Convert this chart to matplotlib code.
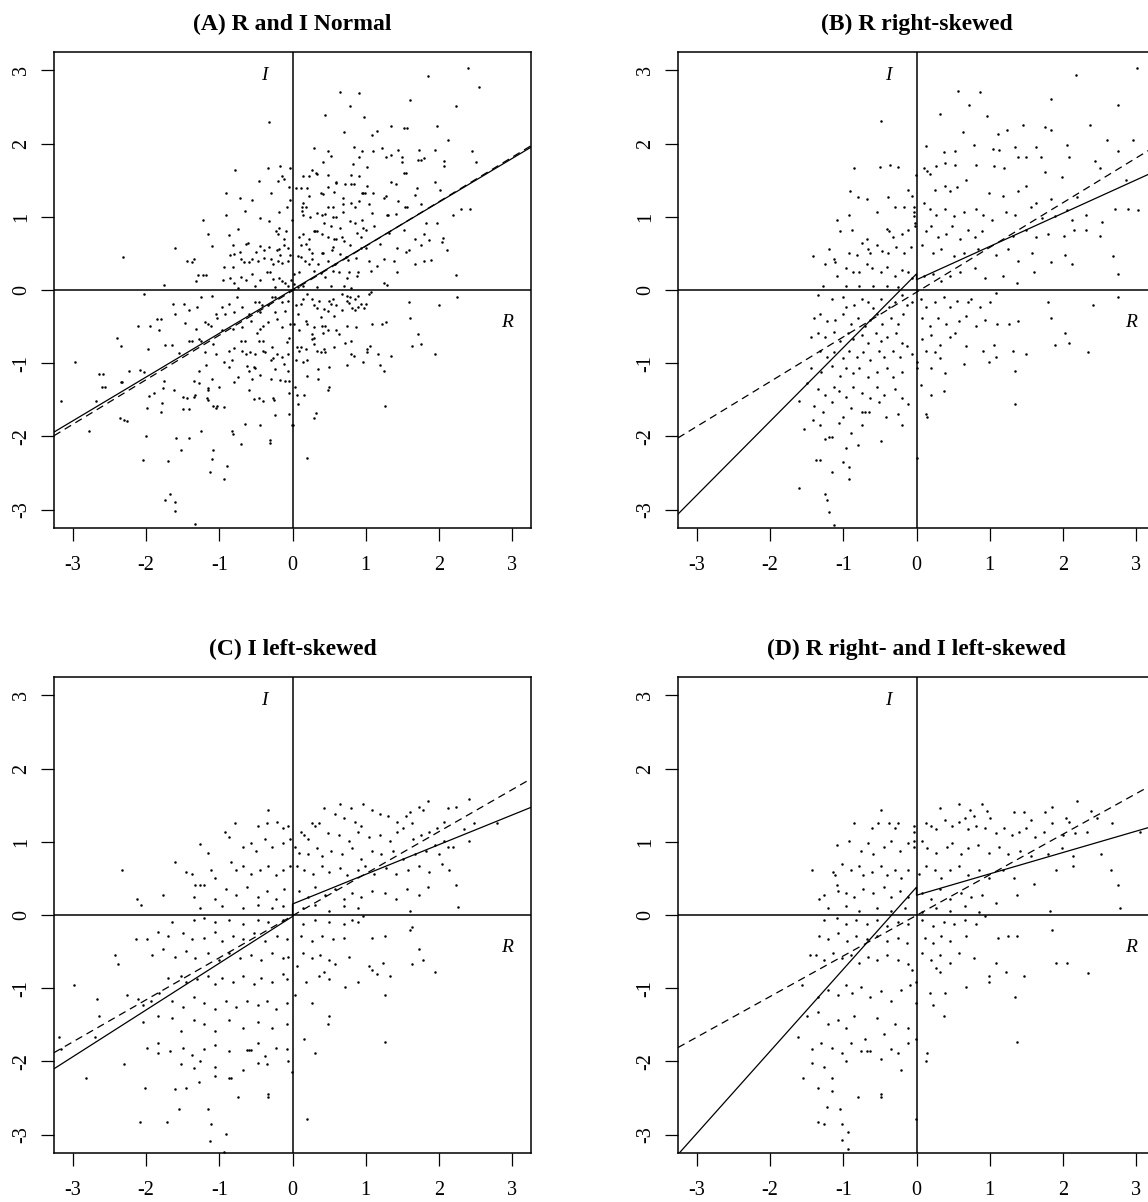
import matplotlib
matplotlib.use("Agg")
import matplotlib.pyplot as plt

plt.rcParams["font.family"] = ["Liberation Serif", "DejaVu Serif"]

TITLES = ["(A) R and I Normal", "(B) R right-skewed",
          "(C) I left-skewed", "(D) R right- and I left-skewed"]
TICKS = [-3, -2, -1, 0, 1, 2, 3]

# scatter points (R, I)
PTS_A = [
    (-0.32, 2.30), (-0.79, 1.64), (-0.34, 1.66), (-0.17, 1.70), (-0.04, 1.66), (-0.14, 1.56), (-0.12, 1.52),
    (-0.46, 1.49), (-0.20, 1.49), (-0.05, 1.41), (-0.91, 1.32), (-0.72, 1.25), (-0.30, 1.32), (-0.55, 1.23),
    (-0.07, 1.14), (-0.04, 1.23), (-0.91, 1.03), (-0.65, 1.08), (-0.19, 1.06), (-0.45, 0.98), (-0.32, 0.94),
    (-0.01, 0.96), (-1.23, 0.96), (-0.87, 0.75), (-1.15, 0.77), (-0.74, 0.83), (-0.18, 0.85), (-0.23, 0.80),
    (-0.20, 0.77), (-0.11, 0.70), (-0.09, 0.80), (-0.63, 0.63), (-0.61, 0.64), (-0.81, 0.62), (-1.10, 0.60),
    (-0.72, 0.52), (-0.50, 0.52), (-0.44, 0.60), (-0.39, 0.54), (-0.32, 0.59), (-0.21, 0.55), (-0.18, 0.56),
    (-0.12, 0.62), (-0.06, 0.58), (-0.17, 0.48), (-0.04, 0.48), (-0.85, 0.48), (-0.80, 0.49), (-1.60, 0.58),
    (-2.32, 0.45), (-1.44, 0.40), (-1.38, 0.38), (-1.35, 0.42), (-0.93, 0.32), (-0.82, 0.31), (-0.71, 0.43),
    (-0.66, 0.38), (-0.60, 0.38), (-0.56, 0.42), (-0.47, 0.40), (-0.39, 0.44), (-0.30, 0.42), (-0.26, 0.35),
    (-0.20, 0.40), (-0.15, 0.37), (-0.06, 0.40), (-1.29, 0.20), (-1.22, 0.20), (-1.18, 0.20), (-1.32, 0.12),
    (-0.95, 0.14), (-0.85, 0.16), (-0.80, 0.10), (-0.70, 0.18), (-0.63, 0.13), (-0.55, 0.22), (-0.45, 0.13),
    (-0.35, 0.24), (-0.31, 0.24), (-0.26, 0.15), (-0.19, 0.17), (-0.14, 0.12), (-0.10, 0.10), (-0.02, 0.14),
    (-1.75, 0.07), (-0.74, 0.03), (-0.51, 0.05), (-0.24, 0.04), (-0.06, 0.06),
    (2.40, 3.03), (1.85, 2.92), (2.55, 2.77), (0.65, 2.70), (0.91, 2.69), (1.61, 2.60), (0.78, 2.51),
    (2.23, 2.51), (0.44, 2.39), (0.98, 2.36), (1.53, 2.21), (1.56, 2.21), (1.34, 2.24), (1.16, 2.17),
    (1.97, 2.24), (0.70, 2.16), (1.08, 2.11), (2.12, 2.05), (0.84, 1.95), (0.29, 1.94), (0.48, 1.90),
    (0.53, 1.83), (0.95, 1.90), (1.10, 1.90), (1.23, 1.94), (1.44, 1.91), (1.35, 1.84), (1.73, 1.91),
    (1.95, 1.91), (2.46, 1.90), (0.91, 1.81), (1.28, 1.81), (1.50, 1.81), (1.50, 1.75), (1.72, 1.77),
    (1.75, 1.78), (1.80, 1.80), (2.07, 1.76), (2.07, 1.70), (0.42, 1.75), (0.83, 1.72), (2.51, 1.75),
    (1.02, 1.68), (0.27, 1.64), (0.32, 1.60), (0.34, 1.58), (0.15, 1.55), (0.22, 1.56), (0.48, 1.57),
    (0.80, 1.57), (0.91, 1.55), (1.53, 1.60), (1.55, 1.60), (0.59, 1.47), (0.60, 1.46), (0.72, 1.45),
    (0.80, 1.45), (0.84, 1.45), (1.02, 1.42), (1.35, 1.47), (1.42, 1.45), (1.70, 1.39), (1.95, 1.47),
    (2.01, 1.37), (0.05, 1.39), (0.11, 1.39), (0.20, 1.39), (0.39, 1.33), (0.49, 1.40), (0.57, 1.34),
    (0.95, 1.33), (0.97, 1.32), (0.99, 1.32), (1.10, 1.32), (0.23, 1.28), (0.42, 1.31), (0.69, 1.25),
    (0.80, 1.19), (0.91, 1.22), (1.25, 1.26), (1.28, 1.29), (1.44, 1.22), (1.68, 1.30), (0.15, 1.19),
    (0.18, 1.14), (0.49, 1.14), (0.56, 1.14), (0.69, 1.18), (1.04, 1.17), (1.57, 1.14), (1.75, 1.17),
    (0.13, 1.13), (0.13, 1.08), (0.24, 1.00), (0.15, 1.02), (0.34, 1.05), (0.41, 1.02), (0.44, 1.04),
    (0.55, 1.00), (0.59, 1.00), (0.69, 1.06), (0.86, 1.13), (1.08, 1.05), (1.29, 1.03), (1.31, 1.02),
    (1.41, 1.04), (1.54, 1.13), (2.20, 1.03), (2.42, 1.10), (2.30, 1.10), (1.83, 0.92), (1.98, 0.92),
    (0.29, 0.81), (0.31, 0.81), (0.34, 0.81), (0.43, 0.91), (0.52, 0.88), (0.65, 0.85), (0.78, 0.94),
    (0.86, 0.91), (0.95, 0.95), (0.96, 0.85), (1.01, 0.82), (1.11, 0.88), (1.53, 0.82), (0.09, 0.73),
    (0.15, 0.76), (0.23, 0.69), (0.40, 0.76), (0.49, 0.73), (0.57, 0.69), (0.60, 0.69), (0.68, 0.73),
    (0.70, 0.67), (0.88, 0.78), (0.93, 0.72), (1.32, 0.78), (1.80, 0.77), (2.06, 0.71), (2.11, 0.55),
    (1.67, 0.70), (0.11, 0.62), (0.18, 0.63), (0.23, 0.56), (0.27, 0.51), (0.40, 0.51), (0.42, 0.51),
    (0.54, 0.54), (0.55, 0.59), (0.65, 0.49), (0.78, 0.61), (0.94, 0.57), (1.01, 0.58), (1.19, 0.63),
    (1.43, 0.58), (1.59, 0.54), (1.55, 0.52), (1.75, 0.62), (1.86, 0.68), (2.05, 0.65), (0.07, 0.47),
    (0.11, 0.45), (0.17, 0.40), (0.23, 0.36), (0.27, 0.42), (0.35, 0.35), (0.48, 0.40), (0.58, 0.36),
    (0.73, 0.45), (0.76, 0.41), (0.87, 0.44), (1.05, 0.39), (1.15, 0.33), (1.25, 0.42), (1.39, 0.40),
    (1.68, 0.35), (1.80, 0.40), (1.89, 0.41), (2.23, 0.21), (0.02, 0.22), (0.09, 0.24), (0.30, 0.26),
    (0.39, 0.23), (0.45, 0.18), (0.55, 0.26), (0.64, 0.24), (0.75, 0.17), (0.77, 0.25), (0.88, 0.19),
    (0.90, 0.24), (1.07, 0.26), (1.25, 0.09), (1.29, 0.07), (1.43, 0.24), (0.02, 0.08), (0.07, 0.04),
    (0.14, 0.06), (0.34, 0.04), (0.52, 0.05), (0.70, 0.06), (0.80, 0.03),
    (-2.03, -0.06), (-1.64, -0.19), (-1.48, -0.19), (-1.30, -0.23), (-1.25, -0.10), (-1.10, -0.08),
    (-0.96, -0.23), (-0.87, -0.19), (-0.80, -0.30), (-0.76, -0.09), (-0.69, -0.23), (-0.51, -0.17),
    (-0.46, -0.17), (-0.42, -0.21), (-0.33, -0.21), (-0.24, -0.10), (-0.28, -0.09), (-0.15, -0.17),
    (-0.06, -0.15), (-1.61, -0.33), (-1.42, -0.27), (-1.05, -0.33), (-0.92, -0.33), (-0.60, -0.33),
    (-0.44, -0.30), (-0.24, -0.30), (-0.10, -0.28), (-2.11, -0.49), (-1.95, -0.49), (-1.85, -0.40),
    (-1.80, -0.40), (-1.83, -0.55), (-1.47, -0.45), (-1.32, -0.53), (-1.20, -0.44), (-1.15, -0.46),
    (-1.12, -0.49), (-1.25, -0.69), (-1.03, -0.38), (-0.96, -0.55), (-0.82, -0.53), (-0.69, -0.51),
    (-0.57, -0.43), (-0.49, -0.59), (-0.44, -0.53), (-0.40, -0.49), (-0.33, -0.44), (-0.21, -0.39),
    (-0.15, -0.51), (-0.05, -0.65), (-0.03, -0.46), (-2.40, -0.65), (-2.35, -0.76), (-1.97, -0.80),
    (-1.74, -0.75), (-1.65, -0.75), (-1.55, -0.86), (-1.42, -0.69), (-1.37, -0.69), (-1.28, -0.67),
    (-1.19, -0.85), (-1.08, -0.74), (-1.05, -0.88), (-0.94, -0.98), (-0.87, -0.83), (-0.80, -0.79),
    (-0.71, -0.69), (-0.65, -0.69), (-0.69, -0.83), (-0.64, -0.87), (-0.58, -0.85), (-0.51, -0.87),
    (-0.46, -0.70), (-0.41, -0.70), (-0.38, -0.85), (-0.28, -0.78), (-0.21, -0.87), (-0.15, -0.92),
    (-0.06, -0.87), (-0.08, -0.71), (-2.97, -0.99), (-2.64, -1.15), (-2.59, -1.15), (-2.23, -1.10),
    (-2.08, -1.09), (-2.03, -1.12), (-2.34, -1.26), (-1.96, -1.45), (-1.99, -1.61), (-1.78, -1.54),
    (-1.80, -1.67), (-1.89, -1.40), (-1.77, -1.34), (-1.76, -1.24), (-1.62, -1.36), (-1.49, -1.46),
    (-1.44, -1.47), (-1.49, -1.62), (-1.42, -1.62), (-1.35, -1.46), (-1.33, -1.43), (-1.17, -1.48),
    (-1.16, -1.50), (-1.34, -1.24), (-1.28, -1.27), (-1.28, -1.10), (-1.18, -1.03), (-1.16, -1.34),
    (-1.15, -1.37), (-1.10, -1.21), (-1.09, -1.58), (-1.05, -1.61), (-1.03, -1.58), (-1.00, -1.33),
    (-0.94, -1.60), (-0.87, -1.05), (-0.83, -0.96), (-0.80, -1.26), (-0.74, -1.19), (-0.62, -1.04),
    (-0.60, -1.10), (-0.53, -1.05), (-0.51, -1.06), (-0.60, -1.37), (-0.52, -1.49), (-0.46, -1.47),
    (-0.55, -1.21), (-0.44, -1.16), (-0.40, -1.52), (-0.30, -1.21), (-0.27, -1.47), (-0.25, -1.50),
    (-0.24, -1.71), (-0.17, -1.23), (-0.05, -1.24), (-0.05, -1.40), (-0.05, -1.69), (-0.01, -1.85),
    (-0.10, -1.24), (-0.40, -0.83), (-0.30, -0.95), (-0.27, -0.93), (-0.24, -1.08), (-0.12, -1.01),
    (-0.06, -1.10), (-2.78, -1.92), (-2.00, -2.00), (-2.05, -2.32), (-1.70, -2.34), (-1.59, -2.02),
    (-1.52, -2.19), (-1.42, -2.02), (-1.25, -1.93), (-1.13, -2.49), (-1.10, -2.31), (-1.08, -2.19),
    (-0.93, -2.58), (-0.89, -2.40), (-0.83, -1.92), (-0.82, -1.96), (-0.71, -2.10), (-0.65, -1.83),
    (-0.44, -1.85), (-0.31, -2.05), (-0.31, -2.09), (-1.74, -2.87), (-1.68, -2.78), (-1.61, -2.90),
    (-1.60, -3.02), (-1.33, -3.19), (-2.30, -1.77), (-2.26, -1.79), (-3.17, -1.51), (-2.60, -1.32),
    (-2.56, -1.32), (-2.33, -1.25), (-2.69, -1.51), (-2.36, -1.75),
    (2.25, -0.10), (2.00, -0.21), (1.59, -0.17), (1.61, -0.38), (1.72, -0.60), (1.76, -0.74),
    (1.63, -0.77), (1.95, -0.87), (1.28, -0.44), (1.23, -0.46), (1.08, -0.46), (1.06, -0.76),
    (1.02, -0.80), (1.02, -0.85), (1.17, -0.87), (1.34, -0.90), (1.25, -1.10), (1.19, -1.02),
    (0.97, -0.98), (0.80, -0.87), (0.84, -0.90), (0.74, -1.02), (0.72, -0.72), (0.80, -0.70),
    (0.87, -0.51), (0.74, -0.49), (1.05, -0.05), (0.93, -0.19), (1.01, -0.19), (0.98, -0.24),
    (0.81, -0.24), (0.86, -0.27), (0.89, -0.23), (0.77, -0.18), (0.75, -0.15), (0.78, -0.09),
    (0.74, -0.08), (0.68, -0.05), (0.50, -0.15), (0.55, -0.12), (0.60, -0.21), (0.68, -0.27),
    (0.57, -0.36), (0.39, -0.37), (0.41, -0.49), (0.45, -0.49), (0.48, -0.55), (0.42, -0.59),
    (0.30, -0.51), (0.26, -0.60), (0.27, -0.67), (0.30, -0.74), (0.34, -0.83), (0.39, -0.85),
    (0.43, -0.80), (0.45, -0.85), (0.30, -0.65), (0.59, -0.55), (0.64, -0.60), (0.57, -0.78),
    (0.50, -1.05), (0.35, -1.08), (0.20, -0.96), (0.14, -0.99), (0.05, -0.96), (0.11, -0.78),
    (0.18, -0.80), (0.20, -1.17), (0.35, -1.21), (0.50, -1.32), (0.49, -1.37), (0.04, -1.32),
    (0.06, -1.43), (0.16, -1.43), (0.08, -1.55), (0.32, -1.68), (0.30, -1.75), (1.27, -1.58),
    (0.20, -2.30), (0.00, -1.85), (0.07, -0.33), (0.05, -0.21), (0.11, -0.19), (0.14, -0.12),
    (0.20, -0.05), (0.27, -0.12), (0.30, -0.21), (0.34, -0.24), (0.36, -0.15), (0.06, -0.78),
    (0.09, -0.83), (0.02, -0.46), (0.09, -0.55), (0.18, -0.42), (0.20, -0.46), (0.43, -0.26),
    (0.48, -0.28), (0.52, -0.19), (0.89, -0.08), (0.86, -0.12), (1.07, -0.03),
]

PTS_B = [
    (3.02, 3.03), (2.18, 2.93), (0.57, 2.72), (0.87, 2.70), (1.84, 2.61), (0.72, 2.52), (2.75, 2.53),
    (-0.49, 2.31), (0.32, 2.40), (0.96, 2.38), (1.46, 2.25), (1.75, 2.22), (1.84, 2.19), (0.63, 2.16),
    (1.12, 2.13), (1.24, 2.18), (2.37, 2.25), (2.60, 2.05), (0.13, 1.96), (0.37, 1.88), (0.53, 1.90),
    (0.78, 1.98), (1.05, 1.93), (1.13, 1.91), (1.34, 1.95), (1.39, 1.82), (1.49, 1.82), (1.63, 1.95),
    (1.70, 1.82), (2.06, 1.98), (2.08, 1.82), (2.44, 1.76), (2.75, 1.90), (2.96, 2.05), (-0.85, 1.66),
    (-0.50, 1.68), (-0.36, 1.71), (-0.25, 1.68), (-0.01, 1.57), (0.10, 1.66), (0.15, 1.62), (0.19, 1.58),
    (0.27, 1.69), (0.39, 1.74), (0.53, 1.71), (0.82, 1.71), (1.06, 1.69), (1.20, 1.66), (1.75, 1.61),
    (1.99, 1.54), (2.51, 1.66), (-0.91, 1.35), (-0.68, 1.24), (-0.80, 1.27), (-0.11, 1.37), (-0.06, 1.29),
    (0.25, 1.37), (0.39, 1.42), (0.46, 1.35), (0.56, 1.40), (0.68, 1.50), (0.99, 1.32), (1.18, 1.29),
    (1.39, 1.35), (1.49, 1.42), (1.63, 1.19), (1.84, 1.24), (2.20, 1.27), (2.72, 1.11), (2.89, 1.11),
    (3.03, 1.09), (2.87, 1.50), (-0.39, 1.27), (-0.30, 1.14), (-0.17, 1.14), (-0.04, 1.14), (-0.04, 1.06),
    (-0.04, 1.01), (-1.08, 0.96), (-0.92, 1.03), (-0.54, 1.06), (0.10, 1.19), (0.18, 1.11), (0.27, 1.03),
    (0.39, 1.11), (0.51, 1.01), (0.65, 1.06), (0.82, 1.11), (0.91, 1.03), (1.03, 0.95), (1.22, 1.06),
    (1.34, 1.03), (1.56, 1.14), (1.72, 0.98), (1.89, 1.01), (2.06, 1.09), (2.32, 1.03), (2.13, 0.95),
    (2.53, 0.93), (-1.04, 0.80), (-0.88, 0.82), (-0.68, 0.69), (-0.40, 0.83), (-0.37, 0.80), (-0.32, 0.72),
    (-0.20, 0.77), (-0.11, 0.82), (-0.02, 0.88), (-0.02, 0.92), (0.13, 0.80), (0.20, 0.87), (0.30, 0.72),
    (0.41, 0.77), (0.49, 0.87), (0.60, 0.69), (0.70, 0.82), (0.80, 0.72), (0.89, 0.80), (1.32, 0.74),
    (1.49, 0.82), (1.63, 0.72), (1.80, 0.77), (2.01, 0.74), (2.15, 0.82), (2.32, 0.82), (2.51, 0.74),
    (-1.20, 0.56), (-1.42, 0.46), (-1.13, 0.43), (-1.11, 0.38), (-0.92, 0.51), (-0.82, 0.48), (-0.74, 0.64),
    (-0.66, 0.56), (-0.63, 0.51), (-0.54, 0.61), (-0.47, 0.53), (-0.39, 0.51), (-0.28, 0.59), (-0.17, 0.51),
    (-0.07, 0.59), (0.08, 0.61), (0.22, 0.51), (0.34, 0.56), (0.51, 0.46), (0.65, 0.51), (0.84, 0.56),
    (1.08, 0.48), (1.25, 0.56), (1.39, 0.40), (1.58, 0.51), (1.84, 0.38), (2.03, 0.48), (2.13, 0.35),
    (2.68, 0.46), (2.75, 0.22), (-1.25, 0.35), (-1.09, 0.19), (-0.97, 0.30), (-0.87, 0.25), (-0.78, 0.25),
    (-0.68, 0.35), (-0.61, 0.30), (-0.49, 0.25), (-0.40, 0.32), (-0.30, 0.19), (-0.20, 0.27), (-0.11, 0.25),
    (-0.06, 0.17), (0.10, 0.19), (0.22, 0.22), (0.34, 0.12), (0.46, 0.19), (0.60, 0.25), (0.80, 0.30),
    (0.94, 0.17), (1.18, 0.19), (1.37, 0.09), (1.60, 0.25), (-1.28, 0.06), (-0.97, 0.05), (-0.78, 0.06),
    (-0.59, 0.05), (-0.40, 0.06), (-0.25, 0.04),
    (-1.35, -0.07), (-1.16, -0.12), (-1.01, -0.09), (-0.97, -0.23), (-0.85, -0.20), (-0.75, -0.12),
    (-0.66, -0.17), (-0.59, -0.25), (-0.49, -0.12), (-0.37, -0.23), (-0.30, -0.17), (-0.20, -0.07),
    (-0.13, -0.20), (-0.06, -0.17), (0.06, -0.12), (0.13, -0.23), (0.25, -0.17), (0.37, -0.09),
    (0.46, -0.23), (0.56, -0.15), (0.70, -0.17), (0.75, -0.12), (0.87, -0.23), (1.01, -0.17),
    (1.08, -0.04), (1.80, -0.17), (2.41, -0.20), (2.75, -0.09), (-1.40, -0.38), (-1.32, -0.33),
    (-1.23, -0.43), (-1.11, -0.41), (-1.01, -0.33), (-0.90, -0.46), (-0.80, -0.38), (-0.70, -0.49),
    (-0.63, -0.41), (-0.54, -0.33), (-0.47, -0.46), (-0.35, -0.38), (-0.25, -0.46), (-0.18, -0.33),
    (0.08, -0.38), (0.18, -0.49), (0.30, -0.38), (0.41, -0.46), (0.58, -0.43), (0.68, -0.36),
    (0.82, -0.49), (0.94, -0.41), (1.10, -0.46), (1.27, -0.46), (1.39, -0.43), (1.84, -0.38),
    (2.03, -0.59), (-1.35, -0.59), (-1.25, -0.64), (-1.13, -0.57), (-1.04, -0.70), (-0.94, -0.59),
    (-0.87, -0.67), (-0.75, -0.62), (-0.66, -0.72), (-0.56, -0.59), (-0.49, -0.70), (-0.40, -0.64),
    (-0.28, -0.59), (-0.20, -0.72), (0.08, -0.67), (0.20, -0.62), (0.32, -0.75), (0.46, -0.64),
    (0.53, -0.59), (1.89, -0.75), (2.08, -0.72), (2.34, -0.85), (-1.44, -0.64), (-1.32, -0.83),
    (-1.23, -0.91), (-1.13, -0.85), (-1.01, -0.93), (-0.92, -0.83), (-0.82, -0.91), (-0.73, -0.85),
    (-0.63, -0.96), (-0.51, -0.83), (-0.44, -0.91), (-0.32, -0.83), (-0.23, -0.91), (-0.13, -0.77),
    (-0.06, -0.88), (0.13, -0.83), (0.25, -0.85), (0.32, -0.93), (0.68, -0.77), (0.91, -0.83),
    (1.06, -0.75), (1.08, -0.91), (1.32, -0.83), (1.49, -0.88), (-1.44, -1.06), (-1.30, -1.12),
    (-1.16, -1.04), (-1.04, -1.17), (-0.97, -1.06), (-0.87, -1.14), (-0.78, -1.06), (-0.66, -1.19),
    (-0.54, -1.12), (-0.40, -1.06), (-0.32, -1.19), (-0.20, -1.12), (0.00, -0.98), (0.00, -1.06),
    (0.20, -1.06), (0.39, -1.14), (0.65, -1.01), (0.99, -0.98), (1.34, -1.10), (-1.49, -1.27),
    (-1.35, -1.35), (-1.25, -1.43), (-1.13, -1.32), (-1.06, -1.38), (-0.97, -1.46), (-0.87, -1.32),
    (-0.75, -1.40), (-0.63, -1.48), (-0.54, -1.32), (-0.44, -1.43), (-0.30, -1.35), (-0.20, -1.48),
    (0.06, -1.30), (0.20, -1.43), (0.37, -1.38), (-1.61, -1.51), (-1.40, -1.59), (-1.28, -1.66),
    (-1.16, -1.53), (-1.01, -1.74), (-0.90, -1.61), (-0.75, -1.66), (-0.70, -1.66), (-0.65, -1.66),
    (-0.51, -1.53), (-0.42, -1.74), (-0.25, -1.69), (-0.11, -1.56), (0.13, -1.69), (0.15, -1.74),
    (1.34, -1.56), (-1.42, -1.77), (-1.32, -1.85), (-1.20, -2.01), (-1.06, -1.82), (-0.90, -1.95),
    (-0.75, -1.85), (-0.49, -2.06), (-0.20, -1.85), (-1.54, -1.90), (-1.32, -2.32), (-1.25, -2.03),
    (-1.16, -2.01), (-0.97, -2.16), (-0.80, -2.11), (-1.37, -2.32), (-1.16, -2.48), (-1.01, -2.35),
    (-0.92, -2.42), (-0.92, -2.58), (-1.61, -2.71), (-1.25, -2.79), (-1.23, -2.87), (-1.20, -3.03),
    (-1.13, -3.21), (0.00, -2.29),
]

PTS_C = [
    (0.96, 1.52), (0.65, 1.51), (0.80, 1.46), (1.85, 1.56), (2.41, 1.59), (1.73, 1.47), (1.78, 1.43),
    (1.60, 1.41), (1.55, 1.35), (1.09, 1.43), (1.19, 1.38), (1.31, 1.35), (0.43, 1.46), (0.58, 1.38),
    (2.12, 1.46), (2.24, 1.48), (-0.34, 1.43), (0.26, 1.25), (0.31, 1.22), (0.36, 1.25), (0.71, 1.33),
    (0.85, 1.27), (0.94, 1.22), (1.43, 1.27), (1.51, 1.19), (1.63, 1.25), (2.07, 1.27), (1.97, 1.19),
    (1.87, 1.14), (2.34, 1.17), (2.48, 1.25), (2.80, 1.25), (-0.79, 1.25), (-0.47, 1.22), (-0.35, 1.25),
    (-0.21, 1.27), (-0.13, 1.19), (-0.06, 1.22), (-0.92, 1.14), (-0.87, 1.06), (0.11, 1.14), (0.16, 1.09),
    (0.21, 1.04), (0.48, 1.12), (0.63, 1.09), (0.77, 1.01), (0.89, 1.14), (1.04, 1.06), (1.19, 1.09),
    (1.33, 1.01), (1.43, 1.14), (1.65, 1.04), (1.75, 1.09), (1.95, 0.96), (2.07, 1.01), (2.19, 0.93),
    (2.41, 1.01), (-1.26, 0.97), (-1.16, 0.85), (-0.67, 0.93), (-0.57, 0.98), (-0.50, 0.88), (-0.38, 1.04),
    (-0.28, 0.93), (-0.13, 0.98), (-0.03, 1.04), (0.04, 0.93), (0.09, 0.85), (0.21, 0.83), (0.33, 0.91),
    (0.41, 0.80), (0.53, 0.88), (0.67, 0.83), (0.82, 0.91), (0.94, 0.77), (1.09, 0.88), (1.21, 0.83),
    (1.38, 0.88), (1.51, 0.77), (1.68, 0.83), (1.82, 0.88), (2.00, 0.83), (2.12, 0.93), (-2.33, 0.62),
    (-1.61, 0.72), (-1.45, 0.59), (-1.38, 0.56), (-1.11, 0.62), (-1.06, 0.51), (-0.84, 0.72), (-0.77, 0.62),
    (-0.67, 0.67), (-0.57, 0.56), (-0.45, 0.62), (-0.33, 0.67), (-0.23, 0.54), (-0.13, 0.62), (-0.03, 0.67),
    (0.06, 0.67), (0.16, 0.62), (0.28, 0.56), (0.41, 0.67), (0.50, 0.59), (0.65, 0.64), (0.75, 0.54),
    (0.89, 0.62), (0.99, 0.67), (1.11, 0.56), (1.28, 0.64), (1.41, 0.56), (1.58, 0.62), (1.73, 0.67),
    (1.87, 0.59), (2.04, 0.69), (2.14, 0.62), (-1.33, 0.41), (-1.26, 0.41), (-1.21, 0.41), (-1.35, 0.25),
    (-1.06, 0.22), (-0.91, 0.35), (-0.77, 0.27), (-0.62, 0.38), (-0.47, 0.25), (-0.35, 0.33), (-0.23, 0.22),
    (-0.11, 0.35), (0.09, 0.33), (0.21, 0.25), (0.31, 0.38), (0.45, 0.27), (0.58, 0.35), (0.70, 0.22),
    (0.82, 0.30), (0.94, 0.25), (1.09, 0.33), (1.26, 0.30), (1.41, 0.22), (1.56, 0.35), (1.73, 0.27),
    (1.85, 0.38), (2.24, 0.41), (-2.12, 0.22), (-2.07, 0.14), (-1.77, 0.27), (2.26, 0.11), (1.60, 0.06),
    (-1.26, 0.09), (-0.96, 0.12), (-0.67, 0.09), (-0.47, 0.14), (-0.28, 0.09), (-0.13, 0.12), (0.14, 0.09),
    (0.31, 0.14), (0.50, 0.06), (0.70, 0.12), (0.89, 0.09), (0.97, -0.02),
    (-1.65, -0.09), (-1.35, -0.07), (-1.21, -0.04), (-1.06, -0.09), (-0.87, -0.07), (-0.67, -0.12),
    (-0.47, -0.07), (-0.33, -0.09), (-0.13, -0.07), (0.14, -0.12), (0.31, -0.07), (0.50, -0.09),
    (0.70, -0.12), (0.82, -0.07), (0.89, -0.09), (-1.84, -0.23), (-1.70, -0.28), (-1.50, -0.25),
    (-1.38, -0.33), (-1.21, -0.31), (-1.06, -0.23), (-0.96, -0.36), (-0.82, -0.28), (-0.67, -0.33),
    (-0.52, -0.25), (-0.38, -0.36), (-0.21, -0.28), (-0.08, -0.33), (0.11, -0.28), (0.26, -0.36),
    (0.41, -0.28), (0.55, -0.33), (0.70, -0.31), (1.09, -0.31), (1.26, -0.28), (1.60, -0.20),
    (1.63, -0.17), (-2.14, -0.33), (-1.99, -0.33), (-2.43, -0.54), (-2.38, -0.67), (-1.92, -0.54),
    (-1.77, -0.46), (-1.60, -0.57), (-1.45, -0.49), (-1.33, -0.59), (-1.16, -0.52), (-1.01, -0.62),
    (-0.87, -0.52), (-0.72, -0.59), (-0.57, -0.54), (-0.43, -0.62), (-0.28, -0.52), (-0.13, -0.59),
    (-0.06, -0.57), (0.14, -0.52), (0.26, -0.59), (0.38, -0.54), (0.50, -0.62), (0.58, -0.67),
    (0.77, -0.57), (1.04, -0.70), (1.24, -0.65), (1.73, -0.46), (1.78, -0.62), (1.63, -0.67),
    (1.95, -0.78), (-2.99, -0.96), (-2.67, -1.15), (-2.65, -1.38), (-2.26, -1.09), (-2.11, -1.15),
    (-2.04, -1.23), (-1.94, -1.17), (-1.82, -1.07), (-1.70, -0.86), (-1.53, -0.83), (-1.45, -0.91),
    (-1.31, -0.88), (-1.16, -0.83), (-1.06, -0.94), (-0.96, -0.86), (-0.82, -0.91), (-0.67, -0.83),
    (-0.52, -0.94), (-0.43, -0.86), (-0.28, -0.91), (-0.13, -0.80), (-0.08, -0.88), (0.06, -0.70),
    (0.19, -0.91), (0.36, -0.83), (0.43, -0.78), (0.50, -0.88), (0.72, -0.99), (0.89, -0.91),
    (1.09, -0.75), (1.16, -0.80), (1.33, -0.83), (1.26, -1.09), (-1.65, -1.17), (-1.50, -1.25),
    (-1.35, -1.12), (-1.21, -1.20), (-1.06, -1.28), (-0.91, -1.17), (-0.77, -1.25), (-0.62, -1.17),
    (-0.47, -1.23), (-0.35, -1.17), (-0.23, -1.28), (-0.08, -1.20), (0.04, -1.09), (0.26, -1.20),
    (0.50, -1.38), (0.48, -1.49), (-2.04, -1.46), (-1.84, -1.38), (-1.65, -1.41), (-1.53, -1.59),
    (-1.35, -1.44), (-1.21, -1.49), (-1.06, -1.59), (-0.87, -1.44), (-0.67, -1.54), (-0.47, -1.46),
    (-0.28, -1.54), (-0.08, -1.49), (-3.19, -1.67), (-3.17, -1.83), (-2.70, -1.67), (-1.99, -1.81),
    (-1.84, -1.75), (-1.67, -1.86), (-1.50, -1.81), (-1.38, -1.91), (-1.21, -1.83), (-1.06, -1.78),
    (-0.87, -1.86), (-0.62, -1.85), (-0.59, -1.85), (-0.57, -1.85), (-0.47, -1.75), (-0.38, -1.93),
    (-0.23, -1.81), (-0.08, -1.83), (0.16, -1.70), (0.31, -1.88), (1.27, -1.73), (-2.31, -2.04),
    (-1.84, -1.88), (-1.53, -2.04), (-1.35, -2.09), (-1.26, -1.99), (-1.06, -2.07), (-0.87, -2.23),
    (-0.67, -2.12), (-0.47, -2.02), (-0.35, -2.04), (-0.06, -1.99), (-0.01, -2.15), (-2.82, -2.23),
    (-2.01, -2.36), (-1.60, -2.38), (-1.45, -2.36), (-1.28, -2.28), (-1.06, -2.20), (-0.84, -2.23),
    (-0.33, -2.44), (-0.33, -2.49), (-1.55, -2.65), (-1.16, -2.65), (-0.74, -2.49), (-2.09, -2.83),
    (-1.72, -2.83), (-1.11, -2.86), (-0.91, -2.99), (-1.13, -3.09), (-0.94, -3.23), (0.20, -2.78),
]

PTS_D = [
    (2.19, 1.56), (1.85, 1.48), (1.76, 1.41), (0.58, 1.52), (0.89, 1.51), (0.32, 1.46), (-0.49, 1.43),
    (0.73, 1.43), (0.97, 1.42), (1.01, 1.33), (0.66, 1.33), (0.78, 1.35), (1.33, 1.41), (1.47, 1.41),
    (1.56, 1.30), (2.04, 1.33), (2.09, 1.27), (1.85, 1.25), (2.38, 1.42), (2.47, 1.33), (-0.85, 1.25),
    (-0.61, 1.19), (-0.52, 1.25), (-0.37, 1.25), (-0.30, 1.19), (-0.25, 1.25), (-0.04, 1.22), (-0.03, 1.14),
    (-0.03, 1.01), (-0.03, 0.93), (0.13, 1.25), (0.20, 1.22), (0.27, 1.17), (0.39, 1.30), (0.49, 1.22),
    (0.58, 1.27), (0.70, 1.17), (0.82, 1.22), (0.94, 1.19), (1.09, 1.12), (1.19, 1.19), (1.31, 1.09),
    (1.40, 1.14), (1.50, 1.19), (1.62, 1.06), (1.74, 1.14), (2.00, 1.09), (2.16, 1.12), (2.33, 1.14),
    (2.67, 1.25), (3.05, 1.14), (-1.09, 0.96), (-0.92, 1.01), (-0.76, 0.88), (-0.66, 0.98), (-0.59, 0.83),
    (-0.44, 0.93), (-0.35, 1.01), (-0.23, 0.88), (-0.11, 0.98), (0.08, 1.01), (0.15, 0.91), (0.27, 0.85),
    (0.42, 0.93), (0.49, 0.98), (0.61, 0.83), (0.70, 0.91), (0.84, 0.96), (0.99, 0.85), (1.13, 0.93),
    (1.25, 0.83), (1.42, 0.88), (1.56, 0.80), (1.80, 0.83), (1.99, 0.91), (2.14, 0.80), (2.52, 0.83),
    (-1.43, 0.62), (-1.14, 0.59), (-1.11, 0.54), (-1.02, 0.69), (-0.90, 0.62), (-0.78, 0.67), (-0.73, 0.54),
    (-0.61, 0.59), (-0.49, 0.67), (-0.40, 0.54), (-0.30, 0.62), (-0.21, 0.51), (-0.11, 0.62), (0.03, 0.56),
    (0.13, 0.67), (0.25, 0.62), (0.34, 0.51), (0.46, 0.62), (0.58, 0.67), (0.70, 0.54), (0.85, 0.62),
    (0.99, 0.51), (1.18, 0.62), (1.33, 0.51), (1.61, 0.43), (1.90, 0.62), (2.14, 0.67), (2.66, 0.62),
    (-1.09, 0.41), (-1.07, 0.33), (-1.33, 0.22), (-1.26, 0.27), (-0.97, 0.30), (-0.85, 0.25), (-0.73, 0.35),
    (-0.59, 0.30), (-0.44, 0.38), (-0.35, 0.25), (-0.23, 0.33), (-0.11, 0.25), (0.08, 0.30), (0.20, 0.22),
    (0.32, 0.35), (0.46, 0.22), (0.61, 0.30), (0.75, 0.25), (0.89, 0.27), (1.09, 0.17), (1.37, 0.27),
    (2.76, 0.41), (-1.21, 0.09), (-0.97, 0.12), (-0.78, 0.06), (-0.54, 0.09), (-0.35, 0.06), (-0.16, 0.09),
    (0.08, 0.04), (0.27, 0.09), (0.46, 0.06), (0.66, 0.12), (0.85, 0.04), (0.94, -0.02), (1.83, 0.06),
    (2.78, 0.09),
    (-1.26, -0.07), (-1.09, -0.04), (-0.97, -0.12), (-0.83, -0.07), (-0.68, -0.12), (-0.54, -0.07),
    (-0.40, -0.15), (-0.25, -0.09), (-0.11, -0.12), (0.08, -0.07), (0.22, -0.15), (0.37, -0.09),
    (0.51, -0.12), (0.66, -0.07), (0.82, -0.12), (-1.33, -0.28), (-1.21, -0.33), (-1.07, -0.25),
    (-0.95, -0.36), (-0.83, -0.28), (-0.68, -0.33), (-0.54, -0.28), (-0.40, -0.36), (-0.25, -0.31),
    (-0.13, -0.38), (0.11, -0.31), (0.22, -0.38), (0.34, -0.28), (0.46, -0.36), (0.68, -0.28),
    (1.11, -0.31), (1.25, -0.28), (1.37, -0.28), (1.85, -0.20), (-1.38, -0.54), (-1.26, -0.62),
    (-1.14, -0.52), (-1.02, -0.59), (-0.90, -0.54), (-0.78, -0.65), (-0.66, -0.57), (-0.54, -0.62),
    (-0.40, -0.54), (-0.25, -0.62), (-0.11, -0.67), (-0.06, -0.75), (0.08, -0.52), (0.20, -0.62),
    (0.32, -0.54), (0.27, -0.73), (0.32, -0.78), (0.46, -0.65), (0.58, -0.52), (0.78, -0.59),
    (1.09, -0.65), (0.99, -0.83), (1.23, -0.78), (1.47, -0.83), (1.90, -0.65), (2.06, -0.65),
    (2.35, -0.79), (-1.45, -0.54), (-1.57, -0.96), (-1.35, -1.12), (-1.21, -1.02), (-1.07, -1.09),
    (-0.97, -0.96), (-0.88, -1.07), (-0.76, -0.99), (-0.64, -1.12), (-0.49, -1.04), (-0.35, -1.17),
    (-0.21, -1.02), (-0.09, -0.96), (-0.01, -0.91), (-0.01, -1.20), (0.18, -1.07), (0.39, -1.07),
    (0.68, -0.99), (0.99, -0.91), (1.35, -1.12), (-1.62, -1.67), (-1.50, -1.38), (-1.35, -1.33),
    (-1.21, -1.49), (-1.07, -1.44), (-0.97, -1.54), (-0.85, -1.38), (-0.71, -1.70), (-0.54, -1.41),
    (-0.44, -1.62), (-0.30, -1.49), (-0.11, -1.54), (-0.01, -1.70), (0.22, -1.23), (0.37, -1.38),
    (1.37, -1.73), (-1.43, -1.83), (-1.31, -1.75), (-1.16, -1.81), (-1.02, -1.88), (-0.90, -1.75),
    (-0.76, -1.86), (-0.68, -1.86), (-0.64, -1.86), (-0.49, -1.96), (-0.35, -1.83), (-0.25, -1.88),
    (-0.11, -1.75), (0.15, -1.88), (0.13, -1.99), (-1.55, -2.23), (-1.43, -2.02), (-1.26, -2.07),
    (-1.16, -2.23), (-0.97, -1.99), (-0.80, -2.49), (-0.49, -2.44), (-0.49, -2.49), (-0.21, -2.12),
    (-1.35, -2.36), (-1.16, -2.41), (-1.23, -2.62), (-1.04, -2.65), (-1.35, -2.83), (-1.26, -2.85),
    (-1.02, -2.86), (-0.93, -2.96), (-1.02, -3.07), (-0.94, -3.20), (-0.01, -2.78),
]

# fitted lines: dashed = straight fit, solid = fit with a break at R = 0
DASH_R = [-3.26, 3.26]
DASH_I = [
    [-1.99, 1.97],
    [-2.02, 1.96],
    [-1.88, 1.86],
    [-1.81, 1.80],
]
SOLID_R = [
    [-3.26, 3.26],
    [-3.26, 0.0, 0.0, 3.26],
    [-3.26, 0.0, 0.0, 3.26],
    [-3.26, 0.0, 0.0, 3.26],
]
SOLID_I = [
    [-1.94, 1.95],
    [-3.06, 0.22, 0.14, 1.62],
    [-2.10, -0.02, 0.15, 1.47],
    [-3.27, 0.38, 0.27, 1.22],
]

ALL_PTS = [PTS_A, PTS_B, PTS_C, PTS_D]

W, H = 1148, 1202
fig = plt.figure(figsize=(W / 100, H / 100), dpi=100)

# axes boxes in pixels: left, top (width/height shared)
BOXES = [(54, 52), (678, 52), (54, 677), (678, 677)]
AW, AH = 477, 476

for k in range(4):
    left, top = BOXES[k]
    ax = fig.add_axes([left / W, (H - top - AH) / H, AW / W, AH / H])
    ax.set_xlim(-3.26, 3.26)
    ax.set_ylim(-3.25, 3.25)

    ax.axhline(0, color="black", lw=1.1, zorder=2)
    ax.axvline(0, color="black", lw=1.1, zorder=2)

    rr = [p[0] for p in ALL_PTS[k]]
    ii = [p[1] for p in ALL_PTS[k]]
    ax.plot(rr, ii, "o", ms=1.8, mew=0, color="black", zorder=3)

    ax.plot(DASH_R, DASH_I[k], color="black", lw=0.9, dashes=(6, 4), zorder=4)
    ax.plot(SOLID_R[k], SOLID_I[k], color="black", lw=0.9, zorder=4)

    ax.text(-0.38, 2.93, "I", fontsize=14, style="italic", ha="center", va="center")
    ax.text(2.93, -0.45, "R", fontsize=14, style="italic", ha="center", va="center")

    ax.set_xticks(TICKS)
    ax.set_yticks(TICKS)
    ax.set_xticklabels([str(t) for t in TICKS])
    ax.set_yticklabels([str(t) for t in TICKS])
    ax.tick_params(direction="out", length=9.5, width=0.9, labelsize=14.5)
    ax.tick_params(axis="x", pad=11)
    ax.tick_params(axis="y", pad=7)
    plt.setp(ax.get_yticklabels(), rotation=90, va="center")
    for s in ax.spines.values():
        s.set_linewidth(1.1)

    ax.set_title(TITLES[k], fontsize=17, fontweight="bold", pad=16)

fig.savefig("out.png", dpi=100, facecolor="white")
